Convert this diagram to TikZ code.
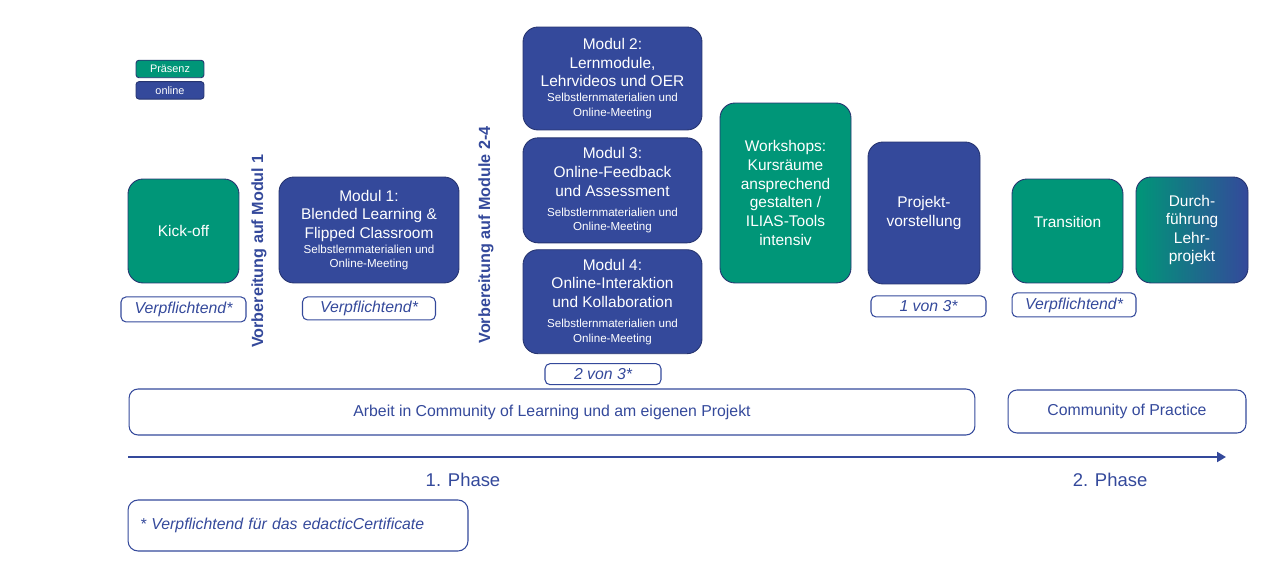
\documentclass[tikz,border=0pt]{standalone}
\usepackage{fontspec}
\setmainfont{Liberation Sans}
\usepackage{xcolor}
\definecolor{presgreen}{RGB}{0,150,120}
\definecolor{onlineblue}{RGB}{52,73,155}
\definecolor{edgenavy}{RGB}{38,52,112}
\usetikzlibrary{positioning,arrows.meta}

\newcommand{\smalltxt}{\fontsize{6.6}{8}\selectfont}

\begin{document}
\begin{tikzpicture}[
    x=0.02cm, y=-0.02cm,
    modbox/.style={rectangle, draw=edgenavy, line width=0.5pt, rounded corners=0.3cm, align=center, text=white, font=\fontsize{8.8}{10.6}\selectfont, inner sep=0pt},
    praesenzbox/.style={modbox, fill=presgreen},
    onlinebox/.style={modbox, fill=onlineblue},
    legendbox/.style={rectangle, draw=edgenavy, line width=0.5pt, rounded corners=0.06cm, text=white, font=\fontsize{6.2}{7}\selectfont, minimum width=1.36cm, minimum height=0.35cm, inner sep=0pt},
    tagbox/.style={rectangle, draw=onlineblue, line width=0.6pt, rounded corners=0.1cm, text=onlineblue, font=\fontsize{9}{11}\selectfont\itshape, inner sep=0pt},
    bandbox/.style={rectangle, draw=onlineblue, line width=0.6pt, rounded corners=0.18cm, text=onlineblue, font=\fontsize{9}{11}\selectfont},
    preplabel/.style={rotate=90, text=onlineblue, font=\fontsize{9.2}{11}\selectfont\bfseries},
    phaselabel/.style={text=onlineblue, font=\fontsize{10.5}{12}\selectfont}
]
\useasboundingbox (0,0) rectangle (1280,573);

% legend
\node[legendbox, fill=presgreen] (legpres) at (170,69) {Präsenz};
\node[legendbox, fill=onlineblue, below=0.06cm of legpres] (legonline) {online};

% kick-off and module 1
\node[praesenzbox, minimum width=2.22cm, minimum height=2.08cm] (kickoff) at (183.5,231) {Kick-off};
\node[tagbox, minimum width=2.5cm, minimum height=0.5cm, below=0.26cm of kickoff] (tagkick) {Verpflichtend*};
\node[preplabel] (prep1) at (259,251) {Vorbereitung auf Modul 1};
\node[onlinebox, minimum width=3.6cm, minimum height=2.12cm] (mod1) at (369,230)
    {Modul 1:\\Blended Learning \&\\Flipped Classroom\\[-2pt]{\smalltxt Selbstlernmaterialien und}\\[-2.5pt]{\smalltxt Online-Meeting}};
\node[tagbox, minimum width=2.66cm, minimum height=0.46cm, below=0.26cm of mod1] (tagmod1) {Verpflichtend*};

% modules 2-4
\node[preplabel] (prep2) at (486,235) {Vorbereitung auf Module 2-4};
\node[onlinebox, minimum width=3.58cm, minimum height=2.06cm] (mod2) at (612.5,78.5)
    {Modul 2:\\Lernmodule,\\Lehrvideos und OER\\[-2pt]{\smalltxt Selbstlernmaterialien und}\\[-2.5pt]{\smalltxt Online-Meeting}};
\node[onlinebox, minimum width=3.58cm, minimum height=2.1cm, below=0.14cm of mod2] (mod3)
    {Modul 3:\\Online-Feedback\\und Assessment\\[1pt]{\smalltxt Selbstlernmaterialien und}\\[-2.5pt]{\smalltxt Online-Meeting}};
\node[onlinebox, minimum width=3.58cm, minimum height=2.08cm, below=0.12cm of mod3] (mod4)
    {Modul 4:\\Online-Interaktion\\und Kollaboration\\[1pt]{\smalltxt Selbstlernmaterialien und}\\[-2.5pt]{\smalltxt Online-Meeting}};
\node[tagbox, minimum width=2.32cm, minimum height=0.42cm, below=0.18cm of mod4, xshift=-0.19cm] (tagmod4) {2 von 3*};

% workshops and project
\node[praesenzbox, minimum width=2.62cm, minimum height=3.6cm] (workshops) at (785.5,193)
    {Workshops:\\Kursräume\\ansprechend\\gestalten /\\ILIAS-Tools\\intensiv};
\node[onlinebox, minimum width=2.24cm, minimum height=2.84cm] (projekt) at (924,213) {Projekt-\\vorstellung};
\node[tagbox, minimum width=2.3cm, minimum height=0.42cm, below=0.22cm of projekt, xshift=0.09cm] (tagprojekt) {1 von 3*};

% phase 2
\node[praesenzbox, minimum width=2.22cm, minimum height=2.08cm] (transition) at (1067.5,231) {Transition\\\mbox{}};
\node[tagbox, minimum width=2.48cm, minimum height=0.48cm, below=0.18cm of transition, xshift=0.13cm] (tagtrans) {Verpflichtend*};
\node[modbox, left color=presgreen, right color=onlineblue, minimum width=2.24cm, minimum height=2.12cm] (durchf) at (1192,230)
    {Durch-\\führung\\Lehr-\\projekt};

% bands
\node[bandbox, minimum width=16.92cm, minimum height=0.92cm] (learning) at (552,412) {Arbeit in Community of Learning und am eigenen Projekt};
\node[bandbox, minimum width=4.76cm, minimum height=0.86cm] (practice) at (1127,411.5) {Community of Practice};

% timeline
\coordinate (tstart) at (128,457);
\coordinate (tend) at (1226,457);
\draw[onlineblue, line width=1.7pt, -{Triangle[length=5pt,width=5.5pt]}] (tstart) -- (tend);
\node[phaselabel] (phase1) at (463,480) {1. Phase};
\node[phaselabel] (phase2) at (1110,480) {2. Phase};

% footnote
\node[bandbox, rounded corners=0.2cm, minimum width=6.8cm, minimum height=1.02cm, text width=6.32cm, inner xsep=0.24cm, align=left, font=\fontsize{9}{11}\selectfont\itshape] (footnote) at (298,525.5)
    {* Verpflichtend für das edacticCertificate};

\end{tikzpicture}
\end{document}
